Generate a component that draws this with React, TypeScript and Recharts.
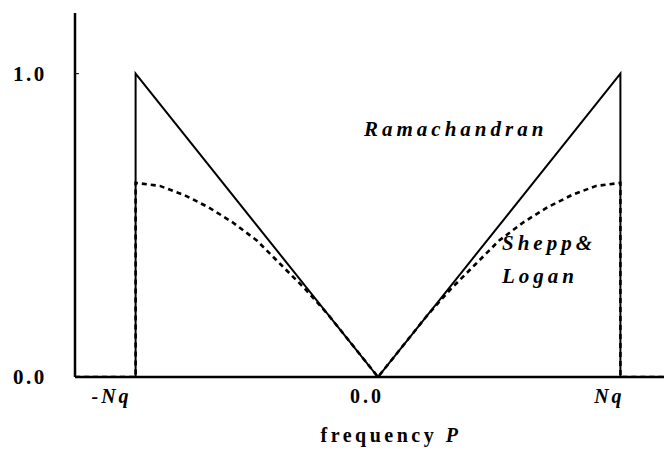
import { Customized, Line, LineChart, XAxis, YAxis } from "recharts";

// Ramachandran (ramp) filter: |P| inside the Nyquist band, zero outside
const ramFreq = [-1.25, -1, -1, 0, 1, 1, 1.25];
const ramGain = [0, 0, 1, 0, 1, 0, 0];

// Shepp & Logan filter response
const sheppFreq = [
  -1.25, -1, -1, -0.9, -0.8, -0.7, -0.6, -0.5, -0.4, -0.3, -0.2, -0.1, 0, 0.1,
  0.2, 0.3, 0.4, 0.5, 0.6, 0.7, 0.8, 0.9, 1, 1, 1.25,
];
const sheppGain = [
  0, 0, 0.64, 0.63, 0.6, 0.56, 0.51, 0.45, 0.37, 0.29, 0.2, 0.1, 0, 0.1, 0.2,
  0.29, 0.37, 0.45, 0.51, 0.56, 0.6, 0.63, 0.64, 0, 0,
];

const xTicks = [-1, 0, 1];
const xTickLabels = ["-Nq", "0.0", "Nq"];
const yTicks = [0, 1];
const yTickLabels = ["0.0", "1.0"];

const ramData = ramFreq.map((p, i) => ({ p, v: ramGain[i] }));
const sheppData = sheppFreq.map((p, i) => ({ p, v: sheppGain[i] }));

const FONT = '"Liberation Serif", "Times New Roman", "DejaVu Serif", serif';

function XTick({ x, y, payload }: any) {
  const label = xTickLabels[xTicks.indexOf(payload.value)];
  const italic = label.includes("Nq");
  const first = label.startsWith("-");
  return (
    <text
      x={first ? x - 4 : x - 11}
      y={y + 26}
      textAnchor={first ? "end" : "middle"}
      style={{
        fontFamily: FONT,
        fontSize: 20,
        fontWeight: "bold",
        fontStyle: italic ? "italic" : "normal",
        letterSpacing: 3,
      }}
      fill="#000"
    >
      {label}
    </text>
  );
}

function YTick({ x, y, payload }: any) {
  const label = yTickLabels[yTicks.indexOf(payload.value)];
  return (
    <g>
      <line x1={x} x2={x + 4} y1={y} y2={y} stroke="#000" strokeWidth={1} />
      <text
        x={x - 62}
        y={y + 7}
        style={{ fontFamily: FONT, fontSize: 21, fontWeight: "bold", letterSpacing: 2.5 }}
        fill="#000"
      >
        {label}
      </text>
    </g>
  );
}

function AxisTitle({ viewBox }: any) {
  const cx = viewBox.x + viewBox.width / 2 + 13;
  return (
    <text
      x={cx}
      y={viewBox.y + 65}
      textAnchor="middle"
      style={{ fontFamily: FONT, fontSize: 20, fontWeight: "bold", letterSpacing: 3.5 }}
      fill="#000"
    >
      frequency <tspan fontStyle="italic">P</tspan>
    </text>
  );
}

function Annotations() {
  const style = {
    fontFamily: FONT,
    fontSize: 21,
    fontStyle: "italic",
    fontWeight: 600,
    letterSpacing: 4,
  } as const;
  return (
    <g fill="#000">
      <text x={356} y={128} style={style}>
        Ramachandran
      </text>
      <text x={494} y={242} style={style}>
        Shepp&amp;
      </text>
      <text x={494} y={275} style={style}>
        Logan
      </text>
    </g>
  );
}

export default function App() {
  return (
    <div style={{ width: 664, height: 442, overflow: "hidden", background: "#fff" }}>
      <LineChart
        width={676}
        height={442}
        margin={{ top: 5, right: 3, bottom: 0, left: 0 }}
      >
        <XAxis
          dataKey="p"
          type="number"
          domain={[-1.25, 1.25]}
          ticks={xTicks}
          tick={<XTick />}
          tickLine={false}
          tickSize={0}
          tickMargin={0}
          height={73}
          axisLine={{ stroke: "#000", strokeWidth: 2.5 }}
          allowDataOverflow
          label={{ content: <AxisTitle /> }}
        />
        <XAxis
          xAxisId="top"
          orientation="top"
          dataKey="p"
          type="number"
          domain={[-1.25, 1.25]}
          tick={false}
          tickLine={false}
          height={0}
          axisLine={{ stroke: "#000", strokeWidth: 2.5 }}
        />
        <YAxis
          type="number"
          domain={[0, 1.2]}
          ticks={yTicks}
          tick={<YTick />}
          tickLine={false}
          tickSize={0}
          tickMargin={0}
          width={67}
          axisLine={{ stroke: "#000", strokeWidth: 2.5 }}
          allowDataOverflow
        />
        <Line
          data={ramData}
          dataKey="v"
          type="linear"
          stroke="#000"
          strokeWidth={2}
          dot={false}
          isAnimationActive={false}
        />
        <Line
          data={sheppData}
          dataKey="v"
          type="linear"
          stroke="#000"
          strokeWidth={2.6}
          strokeDasharray="5 4"
          dot={false}
          isAnimationActive={false}
        />
        <Customized component={<Annotations />} />
      </LineChart>
    </div>
  );
}
